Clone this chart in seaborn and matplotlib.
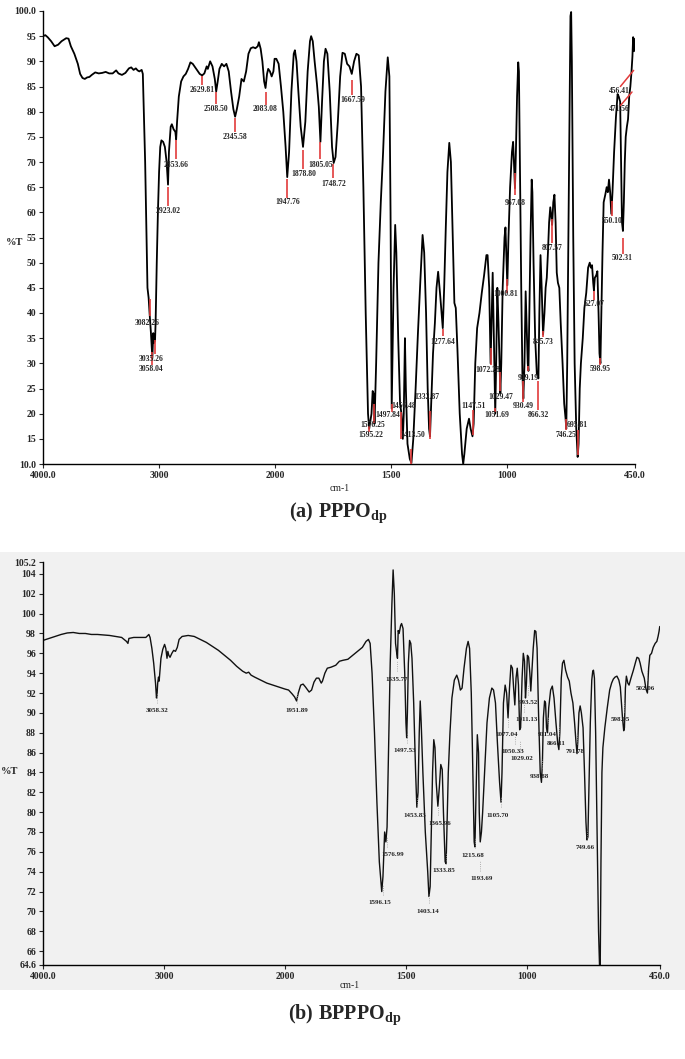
import numpy as np
import pandas as pd
import seaborn as sns
import matplotlib.pyplot as plt
from matplotlib.patches import Rectangle

# ---- spectrum (a) PPPOdp : wavenumber (cm-1), %T
wn_a = [4000, 3980, 3960, 3930, 3900, 3870, 3840, 3800, 3780, 3760, 3730, 3700, 3680, 3660, 3640,
        3620, 3600, 3580, 3550, 3520, 3490, 3460, 3430, 3400, 3370, 3350, 3320, 3290, 3260, 3240,
        3220, 3200, 3185, 3170, 3150, 3140, 3120, 3100, 3090, 3082, 3070, 3058, 3050, 3045, 3035,
        3030, 3020, 3010, 3000, 2990, 2980, 2965, 2950, 2935, 2923, 2915, 2900, 2890, 2875, 2860,
        2853, 2845, 2830, 2810, 2790, 2770, 2750, 2730, 2710, 2680, 2650, 2629, 2610, 2590, 2580,
        2560, 2540, 2520, 2508, 2495, 2480, 2460, 2440, 2420, 2400, 2380, 2360, 2345, 2330, 2310,
        2290, 2270, 2250, 2230, 2210, 2190, 2170, 2150, 2140, 2125, 2110, 2095, 2083, 2070, 2060,
        2045, 2030, 2015, 2005, 1995, 1985, 1975, 1965, 1955, 1948, 1940, 1930, 1920, 1915, 1908,
        1900, 1890, 1880, 1870, 1860, 1850, 1845, 1838, 1830, 1820, 1812, 1805, 1798, 1790, 1783,
        1775, 1765, 1755, 1748, 1740, 1730, 1720, 1710, 1700, 1690, 1680, 1670, 1660, 1650, 1640,
        1630, 1620, 1610, 1600, 1595, 1585, 1580, 1576, 1572, 1565, 1555, 1545, 1535, 1525, 1515,
        1508, 1503, 1498, 1495, 1490, 1483, 1478, 1470, 1462, 1456, 1450, 1446, 1441, 1437, 1430,
        1420, 1413, 1405, 1395, 1385, 1375, 1365, 1358, 1350, 1343, 1337, 1333, 1328, 1320, 1312,
        1305, 1298, 1290, 1283, 1278, 1272, 1265, 1258, 1250, 1243, 1235, 1228, 1222, 1215, 1205,
        1195, 1190, 1185, 1175, 1165, 1158, 1150, 1145, 1138, 1130, 1120, 1110, 1100, 1090, 1085,
        1078, 1072, 1068, 1063, 1058, 1052, 1048, 1043, 1038, 1030, 1026, 1020, 1012, 1008, 1003,
        1000, 995, 988, 980, 975, 970, 967, 963, 958, 953, 950, 946, 940, 935, 931,
        926, 921, 917, 912, 909, 905, 900, 895, 892, 887, 880, 873, 866, 862, 857,
        852, 846, 840, 835, 830, 825, 820, 815, 810, 807, 802, 797, 792, 787, 782,
        776, 770, 762, 755, 749, 746, 742, 737, 732, 728, 725, 722, 716, 710, 703,
        697, 693, 688, 683, 675, 668, 660, 652, 645, 640, 635, 630, 627, 623, 617,
        612, 607, 603, 599, 595, 590, 585, 578, 572, 567, 562, 557, 552, 547, 540,
        532, 525, 520, 514, 510, 506, 502, 498, 494, 490, 485, 480, 475, 470, 465,
        461, 458, 455, 452, 450]
T_a = [95.0, 95.2, 94.8, 94.0, 93.0, 93.3, 94.0, 94.6, 94.5, 93.0, 91.5, 89.5, 87.5, 86.7, 86.5,
       86.8, 86.9, 87.3, 87.8, 87.6, 87.7, 87.9, 87.6, 87.6, 88.2, 87.6, 87.3, 87.7, 88.6, 88.8,
       88.3, 88.6, 88.2, 88.0, 88.3, 87.5, 70.0, 45.0, 43.0, 40.0, 36.0, 31.0, 36.0, 34.0, 34.5,
       38.0, 50.0, 60.0, 68.0, 73.0, 74.3, 74.0, 73.0, 70.0, 65.5, 72.0, 77.0, 77.5, 76.5, 76.0,
       74.5, 78.0, 83.0, 86.0, 87.0, 87.5, 88.5, 89.8, 89.5, 88.5, 87.5, 87.2, 87.6, 89.0, 88.5,
       90.0, 89.0, 86.5, 84.0, 86.0, 88.5, 89.5, 89.0, 89.5, 88.0, 84.0, 80.5, 79.0, 80.5, 83.0,
       86.5, 86.0, 88.0, 91.5, 92.6, 92.8, 92.6, 93.0, 93.8, 92.5, 90.0, 86.0, 84.7, 87.5, 88.5,
       88.0, 87.0, 88.0, 90.5, 90.5, 89.5, 85.0, 80.0, 73.0, 67.0, 72.0, 84.0, 91.5, 92.2, 90.0,
       84.0, 77.0, 73.0, 78.0, 88.0, 94.0, 95.0, 94.0, 90.0, 85.5, 81.0, 74.0, 82.0, 90.0, 92.5,
       91.5, 84.0, 73.0, 69.8, 71.0, 78.0, 87.0, 91.7, 91.5, 89.5, 89.0, 87.5, 90.0, 91.5, 91.2,
       85.0, 65.0, 40.0, 20.0, 17.0, 20.0, 24.5, 24.0, 18.0, 30.0, 50.0, 62.0, 72.0, 84.0, 90.8,
       87.0, 60.0, 21.0, 30.0, 45.0, 57.5, 52.0, 35.0, 22.0, 20.0, 15.0, 20.0, 35.0, 25.0, 14.0,
       11.0, 10.2, 15.0, 25.0, 36.0, 46.0, 55.5, 52.0, 40.0, 25.0, 17.0, 15.5, 22.0, 32.0, 38.0,
       45.0, 48.2, 44.0, 40.0, 37.0, 45.0, 57.0, 68.0, 73.8, 70.0, 55.0, 42.0, 41.0, 33.0, 20.0,
       12.0, 10.0, 12.0, 17.0, 19.0, 17.0, 15.5, 18.0, 30.0, 37.0, 40.0, 44.0, 47.5, 51.5, 51.5,
       45.0, 30.0, 38.0, 48.0, 35.0, 20.0, 30.0, 45.0, 38.0, 24.0, 30.0, 45.0, 55.0, 57.0, 50.0,
       45.5, 55.0, 65.0, 72.0, 74.0, 68.0, 64.8, 72.0, 83.0, 89.8, 88.0, 70.0, 45.0, 28.0, 23.0,
       30.0, 44.3, 38.0, 30.0, 28.5, 40.0, 55.0, 66.5, 64.0, 50.0, 35.0, 28.0, 27.0, 40.0, 51.5,
       45.0, 35.7, 40.0, 45.0, 47.0, 52.0, 58.0, 61.0, 59.0, 57.5, 62.0, 63.5, 58.0, 48.0, 46.0,
       45.0, 38.0, 30.0, 22.0, 19.0, 17.0, 30.0, 55.0, 80.0, 99.0, 99.8, 90.0, 55.0, 30.0, 17.0,
       11.4, 14.0, 25.0, 30.0, 35.0, 41.0, 44.0, 49.0, 50.0, 49.0, 49.5, 46.0, 44.5, 47.0, 47.5,
       48.3, 40.0, 32.0, 30.0, 40.0, 52.0, 62.0, 63.5, 65.0, 64.0, 66.5, 64.0, 59.7, 64.0, 72.0,
       79.0, 83.5, 83.0, 82.0, 70.0, 58.0, 56.3, 62.0, 70.0, 75.0, 77.0, 78.5, 83.0, 85.0, 88.0,
       91.0, 94.8, 92.0, 93.0, 94.5]

# peak labels of (a): text, text x (cm-1), text y (%T), red mark top / bottom (%T)
lab_a = ["3082.26", "3035.26", "3058.04", "2923.02", "2853.66", "2629.81", "2508.50", "2345.58",
         "2083.08", "1947.76", "1878.80", "1805.05", "1748.72", "1667.59", "1576.25", "1595.22",
         "1497.84", "1456.48", "1413.50", "1332.87", "1277.64", "1147.51", "1072.28", "1029.47",
         "1051.69", "1000.81", "967.08", "909.19", "930.49", "866.32", "845.73", "807.57",
         "746.25", "695.81", "627.07", "598.95", "550.10", "502.31"]
lab_a_x = [3100, 3068, 3068, 2923, 2853, 2629, 2508, 2345, 2083, 1947, 1878, 1805, 1748, 1667,
           1580, 1590, 1515, 1448, 1408, 1346, 1277, 1147, 1082, 1030, 1047, 1006, 967, 909,
           930, 866, 846, 807, 747, 700, 627, 599, 549, 505]
lab_a_y = [38.1, 30.9, 28.8, 60.3, 69.5, 84.4, 80.6, 74.9, 80.6, 62.1, 67.7, 69.5, 65.7, 82.4,
           17.8, 15.8, 19.8, 21.5, 15.8, 23.4, 34.3, 21.5, 28.7, 23.4, 19.8, 43.7, 61.9, 27.0,
           21.5, 19.8, 34.3, 52.9, 15.8, 17.8, 41.7, 28.8, 58.3, 50.9]
mark_a_top = [42.7, 34.6, 32.2, 65.0, 74.3, 87.0, 84.0, 78.8, 84.0, 66.7, 72.3, 73.9, 69.6, 86.2,
              22.0, 17.5, 22.0, 20.4, 13.0, 20.6, 36.9, 20.7, 33.0, 28.2, 21.2, 46.7, 67.8, 29.4,
              26.4, 26.4, 36.5, 58.7, 19.0, 16.7, 44.3, 31.0, 62.3, 55.0]
mark_a_bot = [39.4, 31.9, 29.7, 61.3, 70.5, 85.2, 81.5, 76.0, 81.3, 62.9, 68.7, 70.5, 66.9, 83.4,
              18.2, 16.3, 20.4, 15.0, 10.0, 15.0, 35.5, 15.7, 29.6, 24.6, 20.4, 44.0, 63.4, 28.4,
              22.3, 20.7, 35.2, 53.9, 16.7, 11.7, 42.6, 29.6, 59.3, 51.8]
# the two labels at the right end use slanted leaders
lab_a_slant = ["456.41", "471.56"]
slant_x = [[513, 456], [513, 463]]
slant_y = [[85.0, 88.2], [81.2, 83.9]]
slant_text_y = [84.2, 80.6]

# ---- spectrum (b) BPPPOdp
wn_b = [4000, 3950, 3900, 3850, 3800, 3750, 3700, 3650, 3600, 3550, 3500, 3450, 3400, 3350, 3310,
        3298, 3290, 3250, 3200, 3150, 3125, 3115, 3100, 3085, 3070, 3062, 3058, 3052, 3045, 3040,
        3035, 3025, 3010, 2995, 2985, 2975, 2968, 2960, 2950, 2935, 2920, 2905, 2890, 2875, 2850,
        2800, 2750, 2700, 2650, 2600, 2550, 2500, 2450, 2400, 2350, 2320, 2300, 2280, 2250, 2200,
        2150, 2100, 2050, 2000, 1985, 1970, 1960, 1952, 1945, 1935, 1925, 1915, 1900, 1890, 1880,
        1870, 1860, 1850, 1845, 1835, 1825, 1810, 1790, 1775, 1760, 1740, 1720, 1700, 1680, 1665,
        1655, 1648, 1640, 1630, 1620, 1610, 1600, 1595, 1588, 1583, 1578, 1572, 1565, 1558, 1553,
        1548, 1543, 1538, 1535, 1532, 1528, 1522, 1518, 1512, 1505, 1500, 1497, 1494, 1490, 1485,
        1480, 1475, 1468, 1460, 1455, 1450, 1445, 1441, 1437, 1430, 1420, 1410, 1405, 1400, 1395,
        1390, 1385, 1380, 1375, 1368, 1362, 1356, 1350, 1345, 1338, 1334, 1330, 1325, 1318, 1310,
        1300, 1290, 1283, 1275, 1268, 1260, 1250, 1243, 1237, 1230, 1225, 1218, 1215, 1210, 1205,
        1200, 1197, 1193, 1188, 1183, 1175, 1165, 1155, 1145, 1138, 1130, 1122, 1113, 1107, 1103,
        1097, 1090, 1084, 1078, 1072, 1066, 1060, 1055, 1050, 1045, 1040, 1035, 1030, 1026, 1020,
        1015, 1010, 1006, 1002, 998, 993, 988, 984, 980, 974, 968, 963, 958, 952, 945,
        940, 936, 932, 927, 923, 919, 915, 910, 902, 895, 888, 880, 873, 868, 864,
        858, 853, 847, 840, 832, 825, 818, 810, 803, 797, 793, 790, 785, 780, 775,
        768, 762, 756, 752, 748, 744, 738, 732, 728, 725, 721, 716, 710, 704, 700,
        697, 694, 690, 686, 678, 668, 658, 650, 643, 636, 628, 620, 614, 605, 600,
        597, 593, 589, 583, 578, 570, 560, 550, 545, 538, 532, 525, 515, 508, 502,
        497, 492, 485, 478, 470, 463, 458, 454, 451]
T_b = [97.3, 97.5, 97.7, 97.9, 98.05, 98.1, 98.0, 98.0, 97.9, 97.9, 97.85, 97.8, 97.7, 97.6, 97.2,
       97.0, 97.5, 97.6, 97.6, 97.6, 97.9, 97.6, 96.5, 95.0, 93.0, 91.5, 91.7, 93.0, 93.6, 93.2,
       94.0, 95.5, 96.4, 96.9, 96.5, 95.5, 96.2, 95.8, 95.6, 96.0, 96.3, 96.2, 96.6, 97.4, 97.7,
       97.8, 97.7, 97.4, 97.1, 96.7, 96.3, 95.8, 95.3, 94.7, 94.2, 94.0, 94.1, 93.8, 93.6, 93.3,
       93.0, 92.8, 92.6, 92.4, 92.3, 91.9, 91.6, 91.2, 92.0, 92.8, 92.9, 92.6, 92.1, 92.3, 93.1,
       93.5, 93.5, 93.0, 93.2, 94.0, 94.5, 94.6, 94.8, 95.2, 95.3, 95.4, 95.8, 96.2, 96.6, 97.2,
       97.4, 97.0, 94.0, 88.0, 81.0, 75.0, 72.0, 73.5, 78.0, 77.0, 78.5, 86.0, 95.0, 101.0, 104.4,
       102.0, 97.0, 96.0, 95.5, 98.3, 98.0, 98.8, 99.0, 98.5, 94.0, 89.0, 87.5, 90.0, 95.0, 97.3,
       97.0, 95.5, 91.0, 84.0, 80.5, 82.0, 88.0, 91.2, 89.0, 84.0, 78.0, 74.0, 71.5, 72.5, 78.0,
       84.0, 87.3, 86.5, 83.0, 80.6, 82.5, 84.8, 84.3, 80.0, 75.0, 74.8, 79.0, 84.0, 88.0, 91.5,
       93.3, 93.8, 93.3, 92.3, 92.5, 94.5, 96.5, 97.2, 96.5, 92.0, 86.0, 77.0, 76.5, 82.0, 87.8,
       86.0, 80.0, 77.0, 78.0, 80.0, 84.0, 89.0, 91.5, 92.5, 92.3, 91.0, 87.0, 83.0, 81.0, 84.0,
       91.0, 92.8, 92.0, 89.5, 92.5, 94.8, 94.5, 92.5, 90.8, 93.5, 94.5, 92.8, 88.3, 88.5, 93.5,
       96.0, 95.2, 91.5, 93.0, 95.8, 95.6, 94.0, 92.2, 94.0, 96.5, 98.3, 98.2, 96.5, 90.0, 84.0,
       83.0, 85.0, 89.5, 91.2, 91.0, 88.5, 88.0, 90.5, 92.3, 92.7, 91.5, 89.0, 87.0, 86.3, 88.0,
       93.5, 95.0, 95.3, 94.3, 93.6, 93.2, 92.0, 91.0, 89.0, 87.0, 85.9, 87.0, 90.0, 90.7, 90.0,
       88.5, 84.0, 79.0, 77.2, 77.5, 82.0, 89.0, 93.3, 94.2, 94.3, 93.5, 88.0, 78.0, 68.0, 64.6,
       64.6, 75.0, 84.0, 86.5, 88.5, 90.5, 92.3, 93.0, 93.4, 93.6, 93.7, 93.3, 92.6, 89.5, 88.2,
       88.5, 92.5, 93.7, 93.0, 92.8, 93.5, 94.3, 95.2, 95.6, 95.5, 95.0, 94.2, 93.5, 92.4, 92.0,
       94.5, 95.8, 96.0, 96.6, 97.0, 97.2, 97.7, 98.2, 98.7]

lab_b = ["3058.32", "1951.89", "1596.15", "1576.99", "1535.77", "1497.53", "1453.83", "1403.14",
         "1365.96", "1333.85", "1215.68", "1193.69", "1105.70", "1077.04", "1050.33", "1029.02",
         "1011.13", "993.52", "938.88", "911.04", "866.11", "791.78", "749.66", "598.05", "502.06"]
lab_b_x = [3058, 1952, 1607, 1554, 1537, 1504, 1463, 1409, 1360, 1343, 1223, 1186, 1120, 1083,
           1058, 1021, 1000, 992, 950, 917, 880, 802, 760, 612, 512]
lab_b_y = [90.2, 90.2, 70.9, 75.7, 93.4, 86.2, 79.7, 70.0, 78.9, 74.1, 75.6, 73.3, 79.7, 87.8,
           86.1, 85.4, 89.3, 91.0, 83.6, 87.8, 86.9, 86.1, 76.4, 89.3, 92.5]

x_ticks = [4000, 3000, 2000, 1500, 1000, 450]
x_ticklabels = ["4000.0", "3000", "2000", "1500", "1000", "450.0"]
ya_ticks = list(range(10, 101, 5))
ya_ticklabels = ["10.0"] + [str(v) for v in ya_ticks[1:-1]] + ["100.0"]
yb_ticks = [64.6] + list(range(66, 105, 2)) + [105.2]
yb_ticklabels = ["64.6"] + [str(v) for v in range(66, 105, 2)] + ["105.2"]


# the instrument doubles the scale below 2000 cm-1
def fwd(w):
    w = np.asarray(w, dtype=float)
    return np.where(w >= 2000, w, 2 * w - 2000)


def inv(p):
    p = np.asarray(p, dtype=float)
    return np.where(p >= 2000, p, (p + 2000) / 2)


sns.set_style('ticks')
plt.rcParams['font.family'] = ['Liberation Serif', 'DejaVu Serif']
plt.rcParams['mathtext.fontset'] = 'custom'
plt.rcParams['mathtext.rm'] = 'Liberation Serif:bold'
plt.rcParams['mathtext.it'] = 'Liberation Serif:bold'
plt.rcParams['mathtext.bf'] = 'Liberation Serif:bold'

W, H = 685, 1059
fig = plt.figure(figsize=(W / 100, H / 100), dpi=100)
fig.patches.append(Rectangle((0, 1 - 990 / H), 1, (990 - 552) / H, transform=fig.transFigure,
                             facecolor='#f1f1f1', edgecolor='none', zorder=-5))

ax_a = fig.add_axes([43 / W, 1 - 464 / H, (635 - 43) / W, (464 - 11) / H])
ax_b = fig.add_axes([43 / W, 1 - 965 / H, (660 - 43) / W, (965 - 562) / H])
ax_b.patch.set_alpha(0)

df_a = pd.DataFrame({'wn': wn_a, 'T': T_a})
df_b = pd.DataFrame({'wn': wn_b, 'T': T_b})

for ax in (ax_a, ax_b):
    ax.set_xscale('function', functions=(fwd, inv))

sns.lineplot(data=df_a, x='wn', y='T', ax=ax_a, color='black', lw=1.3, sort=False, estimator=None)
sns.lineplot(data=df_b, x='wn', y='T', ax=ax_b, color='#111111', lw=1.0, sort=False, estimator=None)

# red peak marks and labels (a)
mark_x = [float(s) for s in lab_a]
ax_a.vlines(mark_x, mark_a_bot, mark_a_top, color='#e23b3b', lw=1.2, zorder=3)
for s, x, y in zip(lab_a, lab_a_x, lab_a_y):
    ax_a.text(x, y, s, fontsize=5.5, fontweight='bold', ha='center', va='center', zorder=4)
for s, xs, ys, ty in zip(lab_a_slant, slant_x, slant_y, slant_text_y):
    ax_a.plot(xs, ys, color='#e23b3b', lw=1.1, zorder=3)
    ax_a.text(517, ty, s, fontsize=5.5, fontweight='bold', ha='center', va='center', zorder=4)

# grey leaders and labels (b)
for s, x, y in zip(lab_b, lab_b_x, lab_b_y):
    px = float(s)
    ax_b.plot([px, px], [y + 0.8, y + 1.8], color='#999999', lw=0.6, ls=':')
    ax_b.text(x, y, s, fontsize=5, fontweight='bold', ha='center', va='center', color='#222222')

for ax, yt, ytl, ylim in ((ax_a, ya_ticks, ya_ticklabels, (10, 100)),
                          (ax_b, yb_ticks, yb_ticklabels, (64.6, 105.2))):
    ax.set_xlim(4000, 450)
    ax.set_ylim(*ylim)
    ax.set_xticks(x_ticks)
    ax.set_xticklabels(x_ticklabels, fontsize=7, fontweight='bold')
    ax.set_xticks([], minor=True)
    ax.set_yticks(yt)
    ax.set_yticklabels(ytl, fontsize=7, fontweight='bold')
    ax.set_xlabel('')
    ax.set_ylabel('')
    ax.tick_params(direction='out', length=3, width=0.8, pad=2)
    sns.despine(ax=ax)
    for sp in ('left', 'bottom'):
        ax.spines[sp].set_linewidth(1.0)
        ax.spines[sp].set_color('black')

fig.text(15 / W, 1 - 243 / H, '%T', fontsize=7.5, fontweight='bold', ha='center', va='center')
fig.text(10 / W, 1 - 772 / H, '%T', fontsize=7.5, fontweight='bold', ha='center', va='center')
fig.text(340 / W, 1 - 488 / H, 'cm-1', fontsize=7, ha='center', va='center')
fig.text(350 / W, 1 - 985 / H, 'cm-1', fontsize=7, ha='center', va='center')
fig.text(338 / W, 1 - 513 / H, r'$\mathrm{(a)\ PPPO_{dp}}$', fontsize=14.5, ha='center', va='center')
fig.text(345 / W, 1 - 1015 / H, r'$\mathrm{(b)\ BPPPO_{dp}}$', fontsize=14.5, ha='center', va='center')

fig.savefig('out.png', dpi=100)
